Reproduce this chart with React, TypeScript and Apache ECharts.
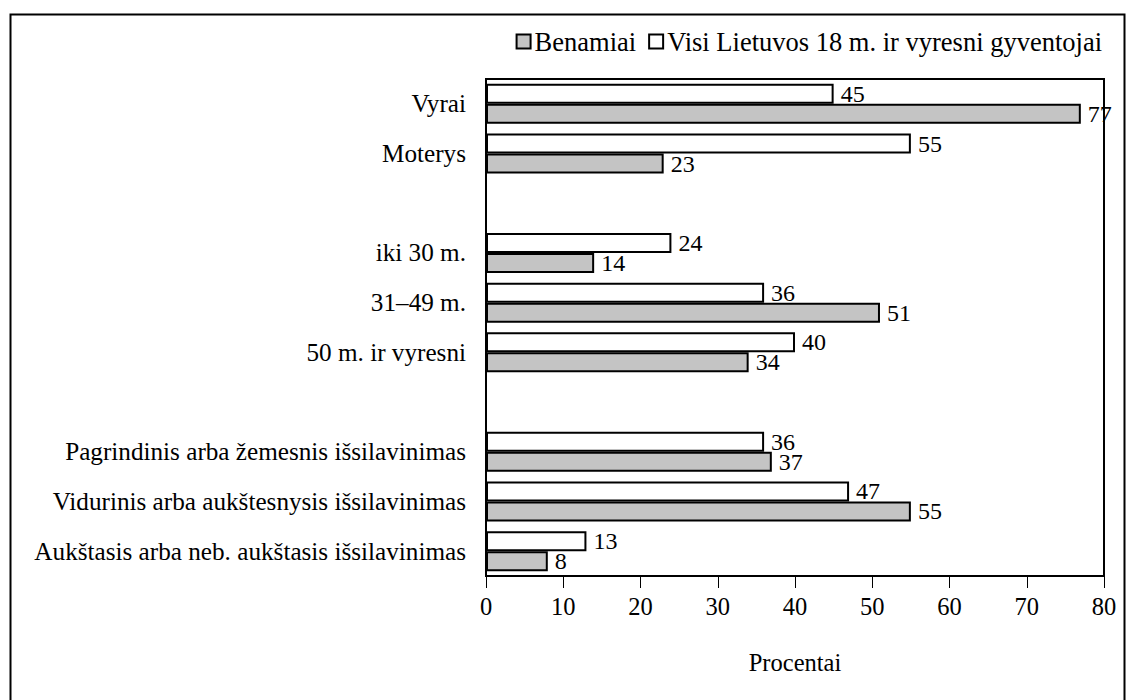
import React, { useEffect, useRef } from "react";
import * as echarts from "echarts";

const categories = [
  "Vyrai",
  "Moterys",
  " ",
  "iki 30 m.",
  "31–49 m.",
  "50 m. ir vyresni",
  "  ",
  "Pagrindinis arba žemesnis išsilavinimas",
  "Vidurinis arba aukštesnysis išsilavinimas",
  "Aukštasis arba neb. aukštasis išsilavinimas",
];

const homelessName = "Benamiai";
const allName = "Visi Lietuvos 18 m. ir vyresni gyventojai";

const homelessValues = [77, 23, null, 14, 51, 34, null, 37, 55, 8];
const allValues = [45, 55, null, 24, 36, 40, null, 36, 47, 13];

const xTicks = { min: 0, max: 80, interval: 10 };
const xAxisName = "Procentai";

const FONT = "Liberation Serif";

export default function App() {
  const ref = useRef<HTMLDivElement>(null);

  useEffect(() => {
    if (!ref.current) return;
    const chart = echarts.init(ref.current, null, { renderer: "svg" });
    const labelStyle = {
      show: true,
      position: "right" as const,
      distance: 7,
      color: "#000",
      fontFamily: FONT,
      fontSize: 24,
    };
    chart.setOption({
      animation: false,
      backgroundColor: "#fff",
      textStyle: { fontFamily: FONT, color: "#000" },
      graphic: [
        {
          type: "rect",
          left: 8,
          top: 12,
          shape: { width: 1114, height: 700 },
          style: { fill: "none", stroke: "#000", lineWidth: 2 },
          silent: true,
        },
      ],
      legend: {
        data: [homelessName, allName],
        top: 23,
        right: 23,
        itemWidth: 14,
        itemHeight: 14,
        itemGap: 12,
        icon: "rect",
        textStyle: { fontFamily: FONT, fontSize: 26.5, color: "#000", padding: [0, 0, 0, -1] },
      },
      grid: {
        left: 486,
        right: 26,
        top: 79,
        bottom: 124,
        show: true,
        borderColor: "#000",
        borderWidth: 2,
        backgroundColor: "transparent",
      },
      xAxis: {
        type: "value",
        min: xTicks.min,
        max: xTicks.max,
        interval: xTicks.interval,
        name: xAxisName,
        nameLocation: "middle",
        nameGap: 74,
        nameTextStyle: { fontFamily: FONT, fontSize: 24.5, color: "#000" },
        axisLine: { show: true, lineStyle: { color: "#000", width: 2 } },
        axisTick: { show: true, inside: false, length: 12, lineStyle: { color: "#000", width: 1 } },
        axisLabel: { fontFamily: FONT, fontSize: 24.5, color: "#000", margin: 18 },
        splitLine: { show: false },
      },
      yAxis: {
        type: "category",
        data: categories,
        inverse: true,
        axisLine: { show: true, lineStyle: { color: "#000", width: 2 } },
        axisTick: { show: false },
        axisLabel: { fontFamily: FONT, fontSize: 25.2, color: "#000", margin: 20 },
        splitLine: { show: false },
      },
      series: [
        {
          name: allName,
          type: "bar",
          data: allValues,
          barWidth: 20,
          barGap: "0%",
          itemStyle: { color: "#ffffff", borderColor: "#000", borderWidth: 2 },
          label: labelStyle,
        },
        {
          name: homelessName,
          type: "bar",
          data: homelessValues,
          barWidth: 20,
          barGap: "0%",
          itemStyle: { color: "#c4c4c4", borderColor: "#000", borderWidth: 2 },
          label: labelStyle,
        },
      ],
    });
    return () => chart.dispose();
  }, []);

  return (
    <div
      ref={ref}
      style={{ position: "fixed", left: 0, top: 0, width: 1130, height: 700 }}
    />
  );
}
